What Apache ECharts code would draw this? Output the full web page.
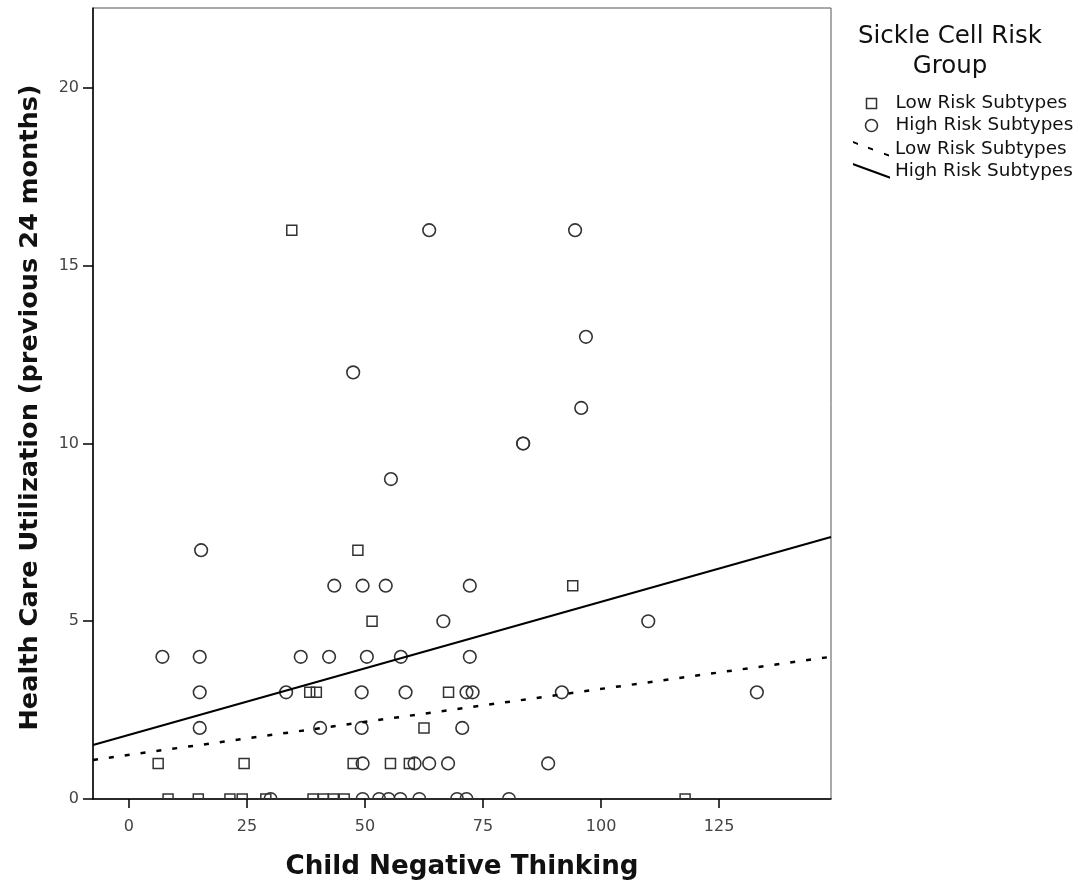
<!DOCTYPE html>
<html>
<head>
<meta charset="utf-8">
<script src="https://cdn.jsdelivr.net/npm/echarts@6/dist/echarts.min.js"></script>
<style>
html,body{margin:0;padding:0;background:#fff;}
#chart{width:1081px;height:886px;}
</style>
</head>
<body>
<div id="chart"></div>
<script>
// ---- data ----
const lowRiskX = [34.5, 48.5, 94, 51.5, 38.3, 39.7, 67.7, 62.5, 6.2, 24.4, 47.5, 55.4, 59.4, 8.3, 14.7, 21.4, 24, 29, 39, 41.2, 43.3, 45.6, 117.8];
const lowRiskY = [16, 7, 6, 5, 3, 3, 3, 2, 1, 1, 1, 1, 1, 0, 0, 0, 0, 0, 0, 0, 0, 0, 0];
const highRiskX = [63.6, 94.5, 96.8, 47.5, 95.8, 83.5, 83.5, 55.5, 15.3, 43.5, 49.5, 54.4, 72.2, 66.6, 110, 7.1, 15, 36.4, 42.4, 50.4, 57.6, 72.2, 15, 33.3, 49.3, 58.6, 71.5, 72.8, 91.7, 133, 15, 40.5, 49.3, 70.6, 49.5, 60.5, 63.6, 67.6, 88.8, 30, 49.5, 53, 55, 57.5, 61.5, 69.5, 71.5, 80.5];
const highRiskY = [16, 16, 13, 12, 11, 10, 10, 9, 7, 6, 6, 6, 6, 5, 5, 4, 4, 4, 4, 4, 4, 4, 3, 3, 3, 3, 3, 3, 3, 3, 2, 2, 2, 2, 1, 1, 1, 1, 1, 0, 0, 0, 0, 0, 0, 0, 0, 0];
const fitX = [-7.6, 148.7];
const lowFitY = [1.10, 4.0];
const highFitY = [1.52, 7.37];
const xTicks = [0, 25, 50, 75, 100, 125];
const yTicks = [0, 5, 10, 15, 20];
const seriesNames = ['Low Risk Subtypes', 'High Risk Subtypes'];
const legendTitle = 'Sickle Cell Risk\nGroup';
const xTitle = 'Child Negative Thinking';
const yTitle = 'Health Care Utilization (previous 24 months)';

const zip = (xs, ys) => xs.map((x, i) => [x, ys[i]]);

function markerRenderer(kind) {
  return function (params, api) {
    const p = api.coord([api.value(0), api.value(1)]);
    if (kind === 'rect') {
      return {type: 'rect', shape: {x: p[0] - 5, y: p[1] - 5, width: 10, height: 10},
        style: {fill: 'none', stroke: '#333', lineWidth: 1.5}};
    }
    return {type: 'circle', shape: {cx: p[0], cy: p[1], r: 6.3},
      style: {fill: 'none', stroke: '#333', lineWidth: 1.6}};
  };
}

const FONT = 'DejaVu Sans';
const chart = echarts.init(document.getElementById('chart'), null, {renderer: 'canvas'});
chart.setOption({
  animation: false,
  backgroundColor: '#fff',
  title: {
    text: legendTitle, left: 950, top: 22, textAlign: 'center', padding: 0,
    textStyle: {fontFamily: FONT, fontSize: 24.5, fontWeight: 'normal', color: '#111', lineHeight: 30}
  },
  legend: [{
    left: 851, top: 93, orient: 'vertical', itemWidth: 37, itemHeight: 16, itemGap: 1, padding: 0,
    selectedMode: false,
    textStyle: {fontFamily: FONT, fontSize: 18.4, color: '#111'},
    data: [
      {name: seriesNames[0], icon: 'path://M0 0M37 16M13 3h10v10h-10z',
        itemStyle: {color: 'none', borderColor: '#333', borderWidth: 1.5}},
      {name: seriesNames[1], icon: 'path://M0 0M37 16M24 8A6 6 0 1 1 12 8A6 6 0 1 1 24 8Z',
        itemStyle: {color: 'none', borderColor: '#333', borderWidth: 1.6}}
    ]
  }, {
    left: 853, top: 140, orient: 'vertical', itemWidth: 37, itemHeight: 16, itemGap: 4, padding: 0,
    selectedMode: false,
    textStyle: {fontFamily: FONT, fontSize: 18.4, color: '#111'},
    data: [
      {name: seriesNames[0], icon: 'path://M0 0M37 16M0 0L5 1.9L5 3.9L0 2ZM15 5.7L20 7.6L20 9.6L15 7.7ZM31 11.7L36 13.6L36 15.6L31 13.7Z',
        itemStyle: {color: '#000', borderWidth: 0}},
      {name: seriesNames[1], icon: 'path://M0 0M37 16M0 0L37 13.5L37 15.8L0 2.3Z',
        itemStyle: {color: '#000', borderWidth: 0}}
    ]
  }],
  grid: {left: 93, top: 8, right: 250, bottom: 87, show: true, borderColor: '#555', borderWidth: 1, containLabel: false},
  xAxis: {
    type: 'value', min: fitX[0], max: fitX[1],
    name: xTitle, nameLocation: 'middle', nameGap: 55,
    nameTextStyle: {fontFamily: FONT, fontSize: 26.2, fontWeight: 'bold', color: '#111'},
    axisLine: {show: true, onZero: false, lineStyle: {color: '#000', width: 1.5}},
    axisTick: {show: true, length: 9, customValues: xTicks, lineStyle: {color: '#000', width: 1.5}},
    axisLabel: {customValues: xTicks, margin: 20, fontFamily: FONT, fontSize: 16, color: '#444'},
    splitLine: {show: false}
  },
  yAxis: {
    type: 'value', min: 0, max: 22.25,
    name: yTitle, nameLocation: 'middle', nameGap: 50,
    nameTextStyle: {fontFamily: FONT, fontSize: 25.6, fontWeight: 'bold', color: '#111', padding: [0, 8, 0, 0]},
    axisLine: {show: true, onZero: false, lineStyle: {color: '#000', width: 1.5}},
    axisTick: {show: true, length: 10, customValues: yTicks, lineStyle: {color: '#000', width: 1.5}},
    axisLabel: {customValues: yTicks, margin: 14, fontFamily: FONT, fontSize: 16, color: '#444'},
    splitLine: {show: false}
  },
  series: [
    {name: seriesNames[0], type: 'custom', clip: true, renderItem: markerRenderer('rect'),
      data: zip(lowRiskX, lowRiskY), encode: {x: 0, y: 1}, z: 3},
    {name: seriesNames[1], type: 'custom', clip: true, renderItem: markerRenderer('circle'),
      data: zip(highRiskX, highRiskY), encode: {x: 0, y: 1}, z: 3},
    {name: seriesNames[0], type: 'line', data: zip(fitX, lowFitY), symbol: 'none', clip: true,
      lineStyle: {color: '#000', width: 2.5, type: [5, 11]}, z: 4},
    {name: seriesNames[1], type: 'line', data: zip(fitX, highFitY), symbol: 'none', clip: true,
      lineStyle: {color: '#000', width: 2}, z: 4}
  ]
});
</script>
</body>
</html>
